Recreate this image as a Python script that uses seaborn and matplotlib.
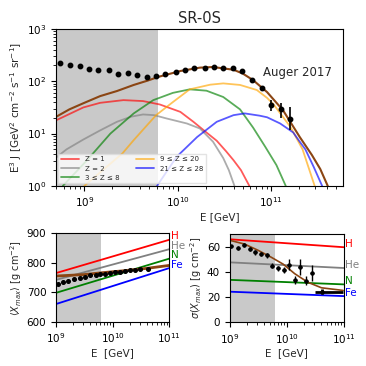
import numpy as np
import pandas as pd
import matplotlib
matplotlib.use("Agg")
import matplotlib.pyplot as plt
import matplotlib.transforms as mtransforms
import seaborn as sns

# ---------------- data ----------------
# Top panel: Auger 2017 spectrum, E^3 J
auger_logE = [8.74, 8.85, 8.95, 9.05, 9.15, 9.26, 9.36, 9.47, 9.57, 9.67, 9.77, 9.87,
              9.98, 10.08, 10.18, 10.29, 10.39, 10.49, 10.59, 10.69, 10.80, 10.91,
              11.00, 11.11, 11.21]
auger_J = [226, 207, 193, 171, 162, 162, 139, 142, 130, 120, 126, 136,
           150, 166, 179, 182, 187, 177, 179, 155, 104, 74, 35, 29, 19.1]
auger_err_lo = [0] * 20 + [5, 7, 7.9, 9.5, 7.5]
auger_err_hi = [0] * 20 + [5, 7, 8.6, 8.8, 13.4]

# model components
z1_logE = [8.70, 8.99, 9.17, 9.42, 9.63, 9.81, 10.03, 10.17, 10.31, 10.42, 10.52, 10.60, 10.68, 10.77]
z1_J = [18, 31.6, 38.7, 43.6, 41.8, 36, 26, 16.8, 10.5, 7.3, 4.6, 3.1, 2.0, 1.0]

z2_logE = [8.70, 8.81, 8.99, 9.17, 9.35, 9.50, 9.63, 9.75, 9.88, 10.10, 10.24, 10.38, 10.49, 10.55, 10.61]
z2_J = [3.5, 5.0, 7.7, 11.5, 16.8, 21, 23.2, 22.5, 19.5, 15.6, 12.5, 7.0, 3.4, 2.0, 1.0]

z3_8_logE = [8.77, 9.03, 9.28, 9.53, 9.74, 9.95, 10.13, 10.31, 10.49, 10.67, 10.81, 10.94, 11.06, 11.16]
z3_8_J = [1.0, 3.1, 10, 24.3, 43.6, 60, 70, 66, 50, 29, 13, 5.6, 2.5, 1.0]

z9_20_logE = [9.00, 9.41, 9.53, 9.77, 9.95, 10.13, 10.35, 10.49, 10.67, 10.85, 10.96, 11.03, 11.21, 11.34, 11.47]
z9_20_J = [1.0, 4.2, 7.5, 22.5, 40, 70, 86, 91, 85, 68, 48, 36, 13.4, 5.0, 1.0]

z21_28_logE = [9.78, 9.99, 10.21, 10.42, 10.60, 10.72, 10.88, 10.96, 11.10, 11.24, 11.31, 11.37, 11.46, 11.55]
z21_28_J = [1.0, 3.6, 8.6, 16.8, 22.5, 24.3, 22, 20.5, 15.6, 10.5, 7.0, 5.0, 2.3, 1.0]

total_logE = [8.70, 8.84, 8.99, 9.17, 9.35, 9.53, 9.68, 9.80, 10.03, 10.24, 10.38, 10.60,
              10.70, 10.81, 10.96, 11.13, 11.31, 11.44, 11.53, 11.61]
total_J = [21, 29, 38, 52, 65, 85, 103, 122, 157, 182, 187, 166,
           140, 105, 62, 28, 8.6, 3.9, 2.1, 1.0]

comp_labels = ["Z = 1", "Z = 2", "3 ≤ Z ≤ 8", "9 ≤ Z ≤ 20", "21 ≤ Z ≤ 28"]
comp_colors = ["red", "gray", "green", "orange", "blue"]

# Bottom-left: <Xmax>
xmax_logE = [9.03, 9.13, 9.22, 9.32, 9.42, 9.51, 9.60, 9.70, 9.78, 9.86, 9.95,
             10.04, 10.13, 10.22, 10.31, 10.39, 10.48, 10.63]
xmax_val = [727, 734, 739, 744, 750, 753, 757, 759, 761, 762, 764,
            767, 770, 773, 775, 777, 779, 778]
xmax_model_logE = [9.0, 9.5, 9.8, 10.2, 10.6, 11.0]
xmax_model = [755, 760, 766, 773, 781, 791]
prim_names = ["H", "He", "N", "Fe"]
prim_colors = ["red", "gray", "green", "blue"]
xmax_prim_ends = {"H": (765, 878), "He": (742, 846), "N": (698, 814), "Fe": (660, 782)}

# Bottom-right: sigma(Xmax)
sig_logE = [9.03, 9.14, 9.25, 9.35, 9.45, 9.55, 9.65, 9.75, 9.85, 9.95, 10.04,
            10.14, 10.23, 10.34, 10.45, 10.62]
sig_val = [60.1, 59.1, 61.3, 58.0, 55.5, 54.2, 53.3, 44.8, 42.9, 41.2, 45.7,
           33.6, 43.8, 32.9, 39.0, 24.2]
sig_err = [1.5, 1.5, 1.5, 1.5, 1.8, 1.8, 2.0, 2.0, 2.0, 2.5, 4.6,
           3.0, 6.5, 3.5, 6.5, 2.0]
sig_model_logE = [9.0, 9.26, 9.50, 9.73, 9.94, 10.14, 10.37, 10.61, 10.99]
sig_model = [65.0, 62.0, 57.0, 51.5, 46.0, 38.5, 31.7, 27.3, 25.2]
sig_prim_ends = {"H": (65.8, 59.5), "He": (47.5, 43.0), "N": (33.6, 30.0), "Fe": (24.2, 20.7)}

# ---------------- style ----------------
sns.set_style("ticks")
plt.rcParams["font.family"] = ["DejaVu Sans"]
plt.rcParams.update({
    "xtick.major.size": 3.5, "ytick.major.size": 3.5,
    "xtick.minor.size": 2.0, "ytick.minor.size": 2.0,
    "xtick.major.width": 0.8, "ytick.major.width": 0.8,
    "xtick.minor.width": 0.6, "ytick.minor.width": 0.6,
    "axes.linewidth": 0.8, "axes.edgecolor": "black",
    "xtick.color": "black", "ytick.color": "black",
    "xtick.labelsize": 7.5, "ytick.labelsize": 7.5,
})

fig = plt.figure(figsize=(3.66, 3.66), dpi=100)
shade_end = 10 ** 9.79

# ---------------- top panel ----------------
ax = fig.add_axes([0.153, 0.492, 0.784, 0.429])
ax.set_xscale("log")
ax.set_yscale("log")
ax.set_xlim(10 ** 8.697, 10 ** 11.773)
ax.set_ylim(1, 1000)
ax.axvspan(10 ** 8.5, shade_end, color="#c9c9c9", lw=0, zorder=0)

comps = [(z1_logE, z1_J), (z2_logE, z2_J), (z3_8_logE, z3_8_J),
         (z9_20_logE, z9_20_J), (z21_28_logE, z21_28_J)]
for (lE, J), lab, col in zip(comps, comp_labels, comp_colors):
    df = pd.DataFrame({"E": 10 ** np.array(lE), "J": J})
    sns.lineplot(data=df, x="E", y="J", ax=ax, color=col, alpha=0.65, lw=1.3,
                 label=lab, sort=False, estimator=None)
df_tot = pd.DataFrame({"E": 10 ** np.array(total_logE), "J": total_J})
sns.lineplot(data=df_tot, x="E", y="J", ax=ax, color="saddlebrown", lw=1.5,
             sort=False, estimator=None, legend=False)

ax.errorbar(10 ** np.array(auger_logE), auger_J, yerr=[auger_err_lo, auger_err_hi],
            fmt="o", color="black", ms=3.2, elinewidth=1.2, capsize=0, zorder=5)
ax.text(10 ** 10.915, 150, "Auger 2017", fontsize=8.5, ha="left", va="center")
ax.set_title("SR-0S", fontsize=10.5, pad=4)
ax.set_xlabel("E [GeV]", fontsize=7.5, labelpad=2)
ax.xaxis.label.set_x(0.57)
ax.set_ylabel(r"E$^3$ J [GeV$^2$ cm$^{-2}$ s$^{-1}$ sr$^{-1}$]", fontsize=7.5, labelpad=2)
leg = ax.legend(loc="lower left", ncol=2, fontsize=5.0, handlelength=2.6,
                columnspacing=2.4, borderaxespad=0.35, frameon=True,
                framealpha=0.8, fancybox=False, edgecolor="#dddddd",
                labelspacing=0.45)
for s in ax.spines.values():
    s.set_visible(True)

# ---------------- bottom left: <Xmax> ----------------
ax2 = fig.add_axes([0.153, 0.121, 0.3096, 0.2416])
ax2.set_xscale("log")
ax2.set_xlim(1e9, 1e11)
ax2.set_ylim(600, 900)
ax2.axvspan(1e9, shade_end, color="#c9c9c9", lw=0, zorder=0)
ends_E = [1e9, 1e11]
trans2 = mtransforms.blended_transform_factory(ax2.transAxes, ax2.transData)
for name, col in zip(prim_names, prim_colors):
    a, b = xmax_prim_ends[name]
    sns.lineplot(x=ends_E, y=[a, b], ax=ax2, color=col, lw=1.3, sort=False, estimator=None)
    ax2.text(1.015, b + 12, name, color=col, fontsize=7.5, ha="left", va="center",
             transform=trans2, clip_on=False)
sns.lineplot(x=10 ** np.array(xmax_model_logE), y=xmax_model, ax=ax2,
             color="saddlebrown", lw=2.0, sort=False, estimator=None)
xe = 10 ** np.array(xmax_logE)
ax2.errorbar(xe, xmax_val, yerr=3, xerr=[xe * (1 - 10 ** -0.03), xe * (10 ** 0.03 - 1)],
             fmt="o", color="black", ms=2.6, elinewidth=0.9, capsize=0, zorder=5)
ax2.set_yticks([600, 700, 800, 900])
ax2.set_xlabel("E  [GeV]", fontsize=7.5, labelpad=2)
ax2.set_ylabel(r"$\langle X_{max}\rangle$ [g cm$^{-2}$]", fontsize=7, labelpad=2)
for s in ax2.spines.values():
    s.set_visible(True)

# ---------------- bottom right: sigma(Xmax) ----------------
ax3 = fig.add_axes([0.6276, 0.1197, 0.3115, 0.241])
ax3.set_xscale("log")
ax3.set_xlim(1e9, 1e11)
ax3.set_ylim(0, 70)
ax3.axvspan(1e9, shade_end, color="#c9c9c9", lw=0, zorder=0)
trans3 = mtransforms.blended_transform_factory(ax3.transAxes, ax3.transData)
for name, col in zip(prim_names, prim_colors):
    a, b = sig_prim_ends[name]
    sns.lineplot(x=ends_E, y=[a, b], ax=ax3, color=col, lw=1.3, sort=False, estimator=None)
    ax3.text(1.015, b + 2.6, name, color=col, fontsize=7.5, ha="left", va="center",
             transform=trans3, clip_on=False)
sns.lineplot(x=10 ** np.array(sig_model_logE), y=sig_model, ax=ax3,
             color="saddlebrown", lw=1.2, sort=False, estimator=None)
se = 10 ** np.array(sig_logE)
xlo = se * (1 - 10 ** -0.035)
xhi = se * (10 ** 0.035 - 1)
ax3.errorbar(se[:-1], sig_val[:-1], yerr=sig_err[:-1], xerr=[xlo[:-1], xhi[:-1]],
             fmt="o", color="black", ms=2.2, elinewidth=1.0, capsize=0, zorder=5)
ax3.errorbar(se[-1:], sig_val[-1:], yerr=sig_err[-1:],
             xerr=[[se[-1] - 10 ** 10.49], [10 ** 10.99 - se[-1]]],
             fmt="o", color="black", ms=2.2, elinewidth=2.0, capsize=0, zorder=5)
ax3.set_yticks([0, 20, 40, 60])
ax3.set_xlabel("E  [GeV]", fontsize=7.5, labelpad=2)
ax3.set_ylabel(r"$\sigma(X_{max})$ [g cm$^{-2}$]", fontsize=7, labelpad=2)
for s in ax3.spines.values():
    s.set_visible(True)

fig.savefig("out.png", dpi=100)
